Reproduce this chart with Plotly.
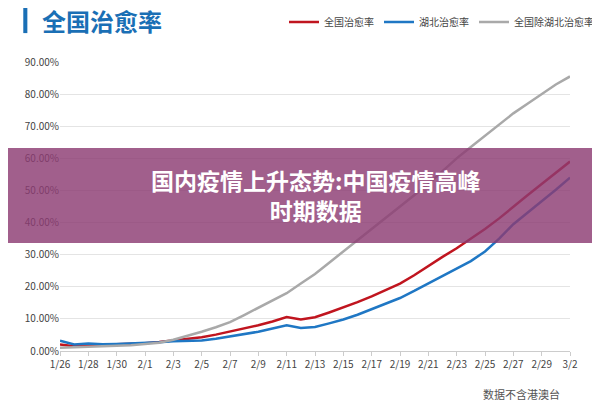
import plotly.graph_objects as go

dates = ["1/26","1/27","1/28","1/29","1/30","1/31","2/1","2/2","2/3","2/4","2/5","2/6","2/7","2/8","2/9","2/10",
         "2/11","2/12","2/13","2/14","2/15","2/16","2/17","2/18","2/19","2/20","2/21","2/22","2/23","2/24","2/25",
         "2/26","2/27","2/28","2/29","3/1","3/2"]
tick_labels = dates[::2]
national = [2.0,1.5,1.8,1.9,2.0,2.2,2.4,2.8,3.3,3.8,4.3,5.1,6.0,7.0,8.0,9.2,10.6,9.8,10.5,12.0,13.5,15.2,17.0,19.0,21.0,23.6,26.5,29.3,32.0,35.0,38.0,41.3,45.0,48.5,52.0,55.5,59.0]
hubei = [3.2,2.0,2.3,2.1,2.2,2.3,2.5,2.7,3.0,3.1,3.3,3.8,4.5,5.2,6.0,7.0,8.0,7.2,7.5,8.6,9.8,11.3,13.0,14.7,16.5,18.7,21.0,23.3,25.5,28.0,31.0,35.0,39.5,43.0,46.5,50.2,54.0]
others = [1.0,1.1,1.3,1.4,1.6,1.8,2.1,2.6,3.5,4.7,6.0,7.4,9.0,11.2,13.5,15.7,18.0,21.0,24.0,27.5,31.0,34.5,38.0,41.5,45.0,48.5,52.0,56.0,60.0,63.5,67.0,70.5,74.0,77.0,80.0,83.0,85.5]
y_ticks = [0,10,20,30,40,50,60,70,80,90]

fig = go.Figure()
for name, vals, col in [("全国治愈率", national, "#c0151f"), ("湖北治愈率", hubei, "#1f77c4"), ("全国除湖北治愈率", others, "#a9a9a9")]:
    fig.add_trace(go.Scatter(x=dates, y=vals, name=name, mode="lines", line=dict(color=col, width=2.5)))

fig.update_layout(
    width=600, height=400, margin=dict(l=52, r=38, t=54, b=57, autoexpand=False),
    paper_bgcolor="white", plot_bgcolor="white",
    font=dict(family="Noto Sans CJK SC", color="#444"),
    legend=dict(orientation="h", x=0.985, xanchor="right", xref="container", y=0.965, yref="container",
                yanchor="middle", font=dict(size=10), bgcolor="rgba(0,0,0,0)"),
    xaxis=dict(type="category", tickvals=tick_labels, ticktext=tick_labels, tickfont=dict(size=10),
               showgrid=False, showline=True, linecolor="#ccc", ticks="outside", tickcolor="#ccc", ticklen=4),
    yaxis=dict(range=[0, 90], tickvals=y_ticks, ticktext=[f"{v}.00%" for v in y_ticks], tickfont=dict(size=10),
               gridcolor="#e4e4e4", zeroline=False),
    showlegend=True,
)
fig.add_shape(type="rect", xref="paper", yref="paper", x0=-0.2, x1=1.15, y0=0.374, y1=0.702, line_width=0,
              fillcolor="rgba(140,60,115,0.82)", layer="above")
fig.add_annotation(xref="paper", yref="paper", x=0.5, y=0.54, text="<b>国内疫情上升态势:中国疫情高峰<br>时期数据</b>",
                   showarrow=False, font=dict(size=23, color="white", family="Noto Sans CJK SC"),
                   yanchor="middle", xanchor="center")
fig.add_annotation(xref="paper", yref="paper", x=-0.04, y=1.145, text="<b>全国治愈率</b>", showarrow=False,
                   xanchor="left", yanchor="middle", font=dict(size=24, color="#1a6fb5", family="Noto Sans CJK SC"))
fig.add_shape(type="rect", xref="paper", yref="paper", x0=-0.072, x1=-0.064, y0=1.1, y1=1.21,
              fillcolor="#1a6fb5", line_width=0)
fig.add_annotation(xref="paper", yref="paper", x=0.985, y=-0.15, text="数据不含港澳台", showarrow=False,
                   xanchor="right", yanchor="middle", font=dict(size=11, color="#555"))
fig.write_html("out.html")
